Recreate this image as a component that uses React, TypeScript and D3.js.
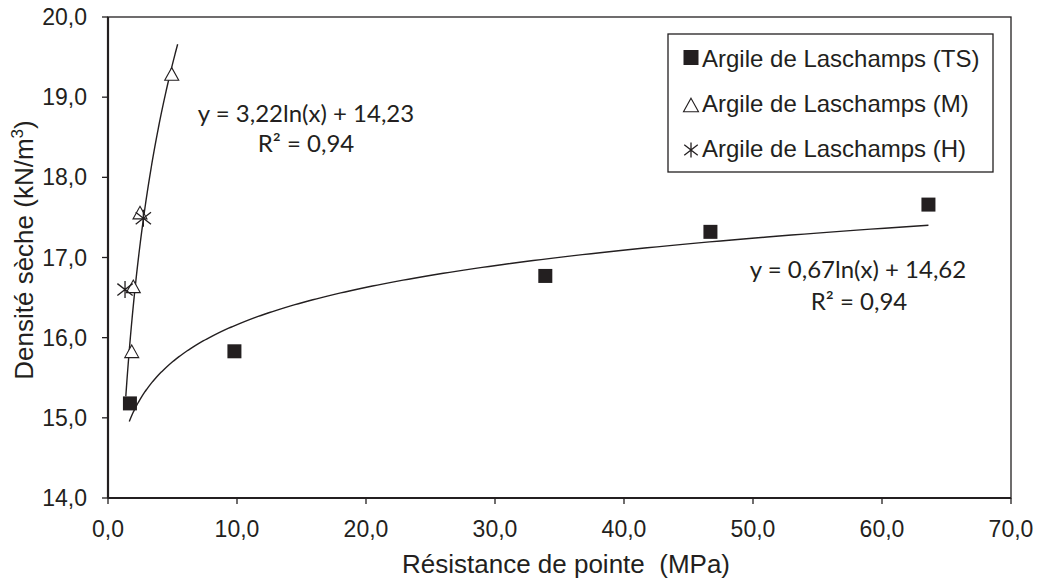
import React from "react";
import * as d3 from "d3";

// ---- data ----
const tsX = [1.7, 9.8, 33.9, 46.7, 63.6];
const tsY = [15.18, 15.83, 16.77, 17.32, 17.66];
const mX = [1.84, 1.96, 2.48, 4.94];
const mY = [15.83, 16.64, 17.56, 19.29];
const hX = [1.32, 2.74];
const hY = [16.6, 17.49];

// trendline coefficients y = a ln(x) + b
const trendTS = { a: 0.67, b: 14.62, from: 1.65, to: 63.6 };
const trendM = { a: 3.22, b: 14.23, from: 1.38, to: 5.4 };

const xTicks = [0, 10, 20, 30, 40, 50, 60, 70];
const yTicks = [14, 15, 16, 17, 18, 19, 20];
const legendLabels = [
  "Argile de Laschamps (TS)",
  "Argile de Laschamps (M)",
  "Argile de Laschamps (H)",
];

const INK = "#231f20";
const W = 1041;
const H = 587;

const fmt = (v: number) => v.toFixed(1).replace(".", ",");

function Square({ cx, cy, s }: { cx: number; cy: number; s: number }) {
  return <rect x={cx - s / 2} y={cy - s / 2} width={s} height={s} fill={INK} />;
}
function Tri({ cx, cy, w }: { cx: number; cy: number; w: number }) {
  const h = w * 0.9;
  const p = `M${cx},${cy - h / 2}L${cx + w / 2},${cy + h / 2}L${cx - w / 2},${cy + h / 2}Z`;
  return <path d={p} fill="#fff" stroke={INK} strokeWidth={1.1} />;
}
function Star({ cx, cy, r }: { cx: number; cy: number; r: number }) {
  const dx = r * 0.9;
  const dy = r * 0.7;
  const p = `M${cx},${cy - r}L${cx},${cy + r}M${cx - dx},${cy - dy}L${cx + dx},${cy + dy}M${cx - dx},${cy + dy}L${cx + dx},${cy - dy}`;
  return <path d={p} fill="none" stroke={INK} strokeWidth={1.3} />;
}

export default function App() {
  const x = d3.scaleLinear().domain([0, 70]).range([108, 1011]);
  const y = d3.scaleLinear().domain([14, 20]).range([498, 17]);

  const trendPath = (t: { a: number; b: number; from: number; to: number }) => {
    const n = 200;
    const pts = d3.range(n + 1).map((i) => t.from * Math.pow(t.to / t.from, i / n));
    return d3
      .line<number>()
      .x((v) => x(v))
      .y((v) => y(t.a * Math.log(v) + t.b))(pts) as string;
  };

  const axisFont = "'Liberation Sans', Arial, sans-serif";
  const eqFont = "Lato, 'Open Sans', sans-serif";

  return (
    <svg
      width={W}
      height={H}
      style={{ position: "absolute", left: 0, top: 0, background: "#fff" }}
    >
      <rect x={0} y={0} width={W} height={H} fill="#fff" />
      {/* frame */}
      <rect
        x={x(0)}
        y={y(20)}
        width={x(70) - x(0)}
        height={y(14) - y(20)}
        fill="none"
        stroke={INK}
        strokeWidth={1.3}
      />
      {/* axes */}
      <line x1={x(0)} x2={x(70)} y1={y(14)} y2={y(14)} stroke={INK} strokeWidth={2.2} />
      <line x1={x(0)} x2={x(0)} y1={y(20)} y2={y(14)} stroke={INK} strokeWidth={2.2} />
      {xTicks.map((t) => (
        <g key={"xt" + t}>
          <line x1={x(t)} x2={x(t)} y1={y(14)} y2={y(14) + 6} stroke={INK} strokeWidth={1.3} />
          <text
            x={x(t)}
            y={537}
            textAnchor="middle"
            fontFamily={axisFont}
            fontSize={23}
            fill={INK}
          >
            {fmt(t)}
          </text>
        </g>
      ))}
      {yTicks.map((t) => (
        <g key={"yt" + t}>
          <line x1={x(0) - 6} x2={x(0)} y1={y(t)} y2={y(t)} stroke={INK} strokeWidth={1.3} />
          <text
            x={87}
            y={y(t) + 8}
            textAnchor="end"
            fontFamily={axisFont}
            fontSize={23}
            fill={INK}
          >
            {fmt(t)}
          </text>
        </g>
      ))}
      {/* axis titles */}
      <text
        x={566}
        y={573}
        textAnchor="middle"
        fontFamily={axisFont}
        fontSize={26}
        fill={INK}
        style={{ whiteSpace: "pre" }}
      >
        {"Résistance de pointe  (MPa)"}
      </text>
      <text
        transform={`translate(33,250) rotate(-90)`}
        textAnchor="middle"
        fontFamily={axisFont}
        fontSize={26}
        fill={INK}
      >
        Densité sèche (kN/m
        <tspan fontSize={17} dy={-10}>
          3
        </tspan>
        <tspan dy={10}>)</tspan>
      </text>

      {/* trendlines */}
      <path d={trendPath(trendTS)} fill="none" stroke={INK} strokeWidth={1.4} />
      <path d={trendPath(trendM)} fill="none" stroke={INK} strokeWidth={1.4} />

      {/* points */}
      {tsX.map((v, i) => (
        <Square key={"ts" + i} cx={x(v)} cy={y(tsY[i])} s={14} />
      ))}
      {mX.map((v, i) => (
        <Tri key={"m" + i} cx={x(v)} cy={y(mY[i])} w={14} />
      ))}
      {hX.map((v, i) => (
        <Star key={"h" + i} cx={x(v)} cy={y(hY[i])} r={8.5} />
      ))}

      {/* equations */}
      <g fontFamily={eqFont} fontSize={24} fill={INK} textAnchor="middle">
        <text x={306} y={122}>
          y = 3,22ln(x) + 14,23
        </text>
        <text x={306} y={152}>
          R² = 0,94
        </text>
        <text x={858} y={278}>
          y = 0,67ln(x) + 14,62
        </text>
        <text x={859} y={310}>
          R² = 0,94
        </text>
      </g>

      {/* legend */}
      <rect x={668} y={34} width={325} height={138} fill="#fff" stroke={INK} strokeWidth={1.3} />
      <Square cx={691} cy={57.5} s={15} />
      <Tri cx={691} cy={105} w={15} />
      <Star cx={691} cy={150} r={7.5} />
      {legendLabels.map((l, i) => (
        <text
          key={l}
          x={702}
          y={66.5 + i * 45}
          fontFamily={axisFont}
          fontSize={24}
          fill={INK}
        >
          {l}
        </text>
      ))}
    </svg>
  );
}
